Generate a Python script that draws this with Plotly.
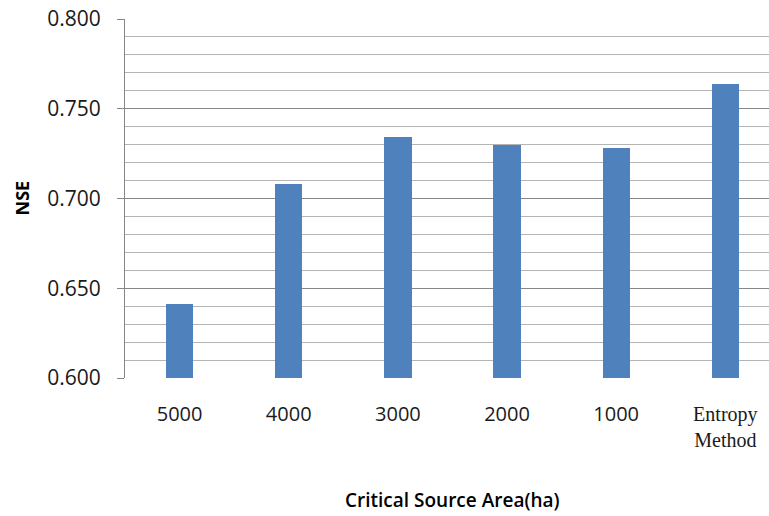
import plotly.graph_objects as go

# NSE for each critical source area threshold
categories = ["5000", "4000", "3000", "2000", "1000", "Entropy Method"]
nse_values = [0.641, 0.708, 0.734, 0.730, 0.728, 0.764]
tick_labels = ["5000", "4000", "3000", "2000", "1000",
               '<span style="font-family:Liberation Serif">Entropy<br>Method</span>']
y_ticks = [0.600, 0.650, 0.700, 0.750, 0.800]

W, H = 769, 516
L, R, T, B = 125, 0, 19, 138
plot_w = W - L - R

fig = go.Figure(
    go.Bar(
        x=list(range(len(categories))),
        y=nse_values,
        width=0.25,
        marker=dict(color="#4F81BD", line=dict(width=0)),
        hovertext=categories,
    )
)

fig.update_layout(
    width=W,
    height=H,
    margin=dict(l=L, r=R, t=T, b=B, pad=0),
    paper_bgcolor="white",
    plot_bgcolor="white",
    showlegend=False,
    font=dict(family="Open Sans", color="#000000"),
    bargap=0,
)

fig.update_xaxes(
    range=[-0.5, 5.4],
    tickmode="array",
    tickvals=list(range(len(categories))),
    ticktext=tick_labels,
    tickfont=dict(family="Open Sans", size=20, color="#1a1a1a"),
    ticks="",
    ticklabelstandoff=22,
    showgrid=False,
    showline=False,
    zeroline=False,
)

fig.update_yaxes(
    range=[0.6, 0.8],
    tickmode="array",
    tickvals=y_ticks,
    ticktext=[f"{v:.3f}" for v in y_ticks],
    tickfont=dict(family="Open Sans", size=21, color="#1a1a1a"),
    ticks="outside",
    ticklen=7,
    tickcolor="#868686",
    ticklabelstandoff=12,
    showline=True,
    linecolor="#868686",
    linewidth=1,
    showgrid=True,
    gridcolor="#868686",
    gridwidth=1,
    zeroline=False,
    minor=dict(dtick=0.01, showgrid=True, gridcolor="#B4B4B4", gridwidth=1, ticks=""),
)

# Axis titles
fig.add_annotation(
    text="<b>NSE</b>",
    xref="paper", yref="y",
    x=(21 - L) / plot_w, y=0.7,
    textangle=-90,
    showarrow=False,
    xanchor="center", yanchor="middle",
    font=dict(family="Open Sans", size=18, color="#000000"),
)
fig.add_annotation(
    text="Critical Source Area(ha)",
    xref="x", yref="paper",
    x=2.5, y=-(500 - (H - B)) / (H - T - B),
    showarrow=False,
    xanchor="center", yanchor="middle",
    font=dict(family="Open Sans", size=19, color="#000000", weight=600),
)

fig.write_html("out.html")
